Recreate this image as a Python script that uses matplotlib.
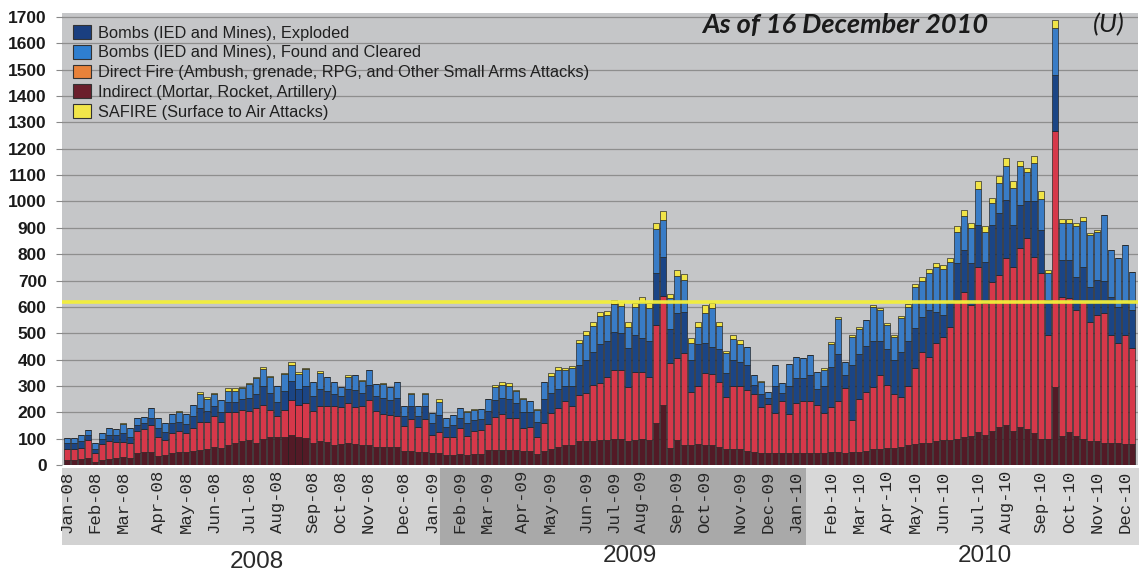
import numpy as np
import matplotlib
matplotlib.use("Agg")
import matplotlib.pyplot as plt
from matplotlib.patches import Patch, Rectangle
import matplotlib.transforms as mtransforms

# ---------------- data (weekly, Jan 2008 - mid Dec 2010) ----------------
indirect = [20,20,22,25,13,20,24,25,30,27, 45,50,51,35,38,45,48,48,55,57,
            60,70,65,75,82,90,95,85,100,108, 108,108,114,105,101,85,90,88,76,80,
            85,80,75,75,70,70,68,70,55,55, 50,50,45,45,38,38,40,38,40,40,
            57,57,57,57,57,55,55,40,55,60, 70,75,75,90,90,92,95,95,100,100,
            90,95,100,95,158,228,63,95,76,76, 80,76,76,70,60,60,60,55,50,45,
            45,45,45,45,45,45,45,45,45,50, 50,45,50,50,55,60,60,65,65,70,
            75,80,82,85,90,95,95,100,105,110, 125,115,130,145,150,130,145,135,120,100,
            100,297,110,125,110,100,90,90,85,85, 85,80,80]
direct_fire = [42,42,43,70,31,58,66,63,59,55, 85,85,101,70,57,75,82,72,85,108,
               105,115,97,125,118,120,108,130,128,101, 79,101,133,123,133,118,135,137,146,139,
               149,139,147,172,135,124,122,116,93,120, 96,123,69,82,67,67,100,72,89,93,
               99,127,137,120,120,84,91,68,103,139, 145,166,149,176,182,212,215,240,261,261,
               207,256,251,238,374,414,323,310,348,202, 220,272,270,246,199,240,240,230,220,174,
               185,151,196,147,189,198,198,183,151,169, 194,246,121,199,223,237,282,239,203,189,
               226,287,345,326,372,392,430,527,553,498, 628,499,566,577,635,623,678,726,671,628,
               394,969,529,508,479,520,454,480,491,409, 377,414,363]
bombs_exploded = [20,22,25,17,18,22,25,24,31,26, 20,23,28,35,30,38,35,35,45,50,
                  40,40,38,40,40,40,52,55,72,66, 53,71,73,62,66,57,65,55,48,41,
                  56,66,53,58,55,61,55,69,37,50, 39,52,46,63,40,45,40,50,41,42,
                  49,61,61,73,58,61,54,57,92,76, 75,59,76,114,128,126,150,135,145,139,
                  146,143,130,137,196,149,129,171,158,122, 160,114,103,124,91,100,90,95,35,51,
                  25,104,34,108,96,87,97,62,104,151, 176,49,209,171,172,173,128,136,132,171,
                  169,153,133,179,120,83,95,139,158,158, 158,158,215,234,221,158,164,139,209,164,
                  133,215,139,145,126,133,133,133,124,145, 139,120,146]
bombs_found = [22,20,24,20,20,23,27,25,35,31, 27,24,38,37,33,34,37,37,41,55,
               47,45,45,42,42,44,52,60,66,60, 60,66,60,55,65,54,58,53,46,37,
               45,55,45,54,46,53,50,59,37,45, 37,45,36,50,32,40,36,41,39,36,
               44,51,50,50,45,50,42,44,64,63, 70,60,67,82,95,97,105,100,106,103,
               82,106,139,126,167,137,118,142,121,62, 65,114,146,86,75,78,70,69,37,45,
               23,80,35,82,79,75,78,61,60,90, 135,52,106,97,101,130,117,90,86,129,
               131,156,140,140,169,174,150,119,127,132, 137,113,82,114,129,139,148,110,145,118,
               103,177,142,142,190,174,197,181,249,177, 184,221,145]
safire = [0,0,0,0,0,0,0,0,3,0, 0,2,0,0,0,2,3,2,2,8,
          7,2,2,9,9,3,3,3,4,4, 0,2,10,6,2,2,8,2,0,0,
          7,2,2,2,0,2,0,2,0,2, 0,2,0,9,0,0,2,2,2,0,
          2,8,9,10,5,3,2,2,2,10, 11,7,10,13,14,15,15,15,15,15,
          19,14,19,18,23,34,16,22,22,19, 19,32,19,18,9,16,15,0,0,5,
          0,0,0,0,0,0,0,0,7,8, 8,0,8,8,0,8,8,8,8,8,
          8,10,15,15,15,15,15,20,25,20, 28,20,20,25,30,26,17,17,26,28,
          11,32,13,13,13,13,8,8,0,0, 0,0,0]

month_labels = ['Jan-08','Feb-08','Mar-08','Apr-08','May-08','Jun-08','Jul-08','Aug-08',
                'Sep-08','Oct-08','Nov-08','Dec-08',
                'Jan-09','Feb-09','Mar-09','Apr-09','May-09','Jun-09','Jul-09','Aug-09',
                'Sep-09','Oct-09','Nov-09','Dec-09',
                'Jan-10','Feb-10','Mar-10','Apr-10','May-10','Jun-10','Jul-10','Aug-10',
                'Sep-10','Oct-10','Nov-10','Dec-10']
month_weeks = [0,4,8,13,17,21,26,30,35,39,43,48,
               52,56,60,65,69,74,78,82,87,91,96,100,
               104,109,113,117,121,125,130,134,139,143,147,151]
years = ['2008', '2009', '2010']
year_spans = [(-0.75, 53.2), (53.2, 105.4), (105.4, 153.0)]
threshold = 618

series_names = ['Bombs (IED and Mines), Exploded',
                'Bombs (IED and Mines), Found and Cleared',
                'Direct Fire (Ambush, grenade, RPG, and Other Small Arms Attacks)',
                'Indirect (Mortar, Rocket, Artillery)',
                'SAFIRE (Surface to Air Attacks)']

# ---------------- figure ----------------
W, H = 1140, 575
fig = plt.figure(figsize=(W / 100, H / 100), dpi=100)
fig.patch.set_facecolor('white')
ax_l, ax_r, ax_t, ax_b = 62, 1138, 13, 465
ax = fig.add_axes([ax_l / W, 1 - ax_b / H, (ax_r - ax_l) / W, (ax_b - ax_t) / H])
ax.set_facecolor('#c5c6c8')

c_ind = '#531a26'
c_dir = '#d6384a'
c_exp = '#1b4585'
c_fnd = '#397cc6'
c_saf = '#f1e447'

x = np.arange(len(indirect))
stack = [(indirect, c_ind), (direct_fire, c_dir), (bombs_exploded, c_exp),
         (bombs_found, c_fnd), (safire, c_saf)]
bottom = np.zeros(len(x))
for vals, col in stack:
    v = np.array(vals, dtype=float)
    ax.bar(x, v, bottom=bottom, width=0.86, color=col, edgecolor='#1c1c1c',
           linewidth=0.45, zorder=3)
    bottom += v

ax.axhline(threshold, color='#f3ef3a', lw=2.6, zorder=5, alpha=0.95)

ax.set_xlim(-0.75, 152.8)
ax.set_ylim(0, 1715)
ax.set_yticks(np.arange(0, 1701, 100))
ax.set_yticklabels([str(v) for v in range(0, 1701, 100)],
                   fontfamily='Liberation Sans', fontweight='bold', fontsize=12.5,
                   color='#1a1a1a')
ax.tick_params(axis='y', length=4, width=0.8, color='#888888', pad=7)
ax.grid(axis='y', color='#8e8e8e', lw=0.9, zorder=1)
ax.set_axisbelow(True)
for s in ax.spines.values():
    s.set_visible(False)

ax.set_xticks(month_weeks)
ax.set_xticklabels(month_labels, rotation=90, fontfamily='Liberation Mono',
                   fontsize=12.5, color='#262626', va='top', ha='center')
ax.tick_params(axis='x', length=0, pad=4)

# label bands under the axis
trans = mtransforms.blended_transform_factory(ax.transData, ax.transAxes)
band_cols = ['#d2d2d2', '#a9a9a9', '#d8d8d8']
for (x0, x1), bc in zip(year_spans, band_cols):
    ax.add_patch(Rectangle((x0, -0.177), x1 - x0, 0.171, transform=trans,
                           facecolor=bc, edgecolor='none', clip_on=False, zorder=0))

# year labels
for label, (px, py) in zip(years, [(257, 562), (630, 556), (985, 556)]):
    fig.text(px / W, 1 - py / H, label, ha='center', va='center',
             fontfamily='Liberation Sans', fontsize=17.5, color='#2a2a2a')

# legend
handles = [Patch(facecolor='#1a3f80', edgecolor='#333333', lw=0.8),
           Patch(facecolor='#2f7fd0', edgecolor='#333333', lw=0.8),
           Patch(facecolor='#e8823a', edgecolor='#333333', lw=0.8),
           Patch(facecolor='#6b1f2c', edgecolor='#333333', lw=0.8),
           Patch(facecolor='#f2e64a', edgecolor='#333333', lw=0.8)]
leg = ax.legend(handles, series_names, loc='upper left',
                bbox_to_anchor=(65 / W, 1 - 17 / H), bbox_transform=fig.transFigure,
                frameon=False, borderpad=0, handlelength=1.1, handleheight=0.9,
                handletextpad=0.4, labelspacing=0.26,
                prop={'family': 'Liberation Sans', 'size': 11.8})
for t in leg.get_texts():
    t.set_color('#202020')
leg.set_zorder(6)

fig.text(845 / W, 1 - 25 / H, 'As of 16 December 2010', ha='center', va='center',
         fontfamily='Lato', fontweight='bold', fontstyle='italic', fontsize=19.5,
         color='#1a1a1a')
fig.text(1109 / W, 1 - 25 / H, '(U)', ha='center', va='center',
         fontfamily='Lato', fontstyle='italic', fontsize=19, color='#1a1a1a')

fig.savefig('out.png', dpi=100)
